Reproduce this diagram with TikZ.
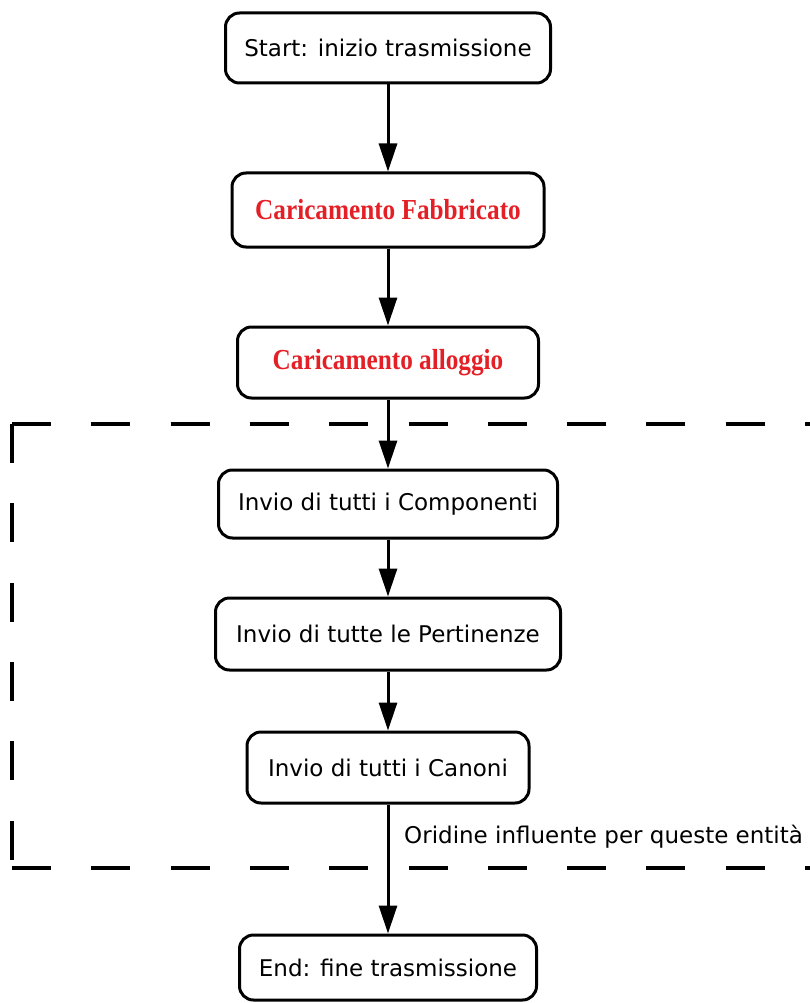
\documentclass[tikz,border=0pt]{standalone}
\usepackage{fontspec}
\setmainfont{DejaVu Sans}
\newfontfamily\redfont[FakeStretch=0.87]{Liberation Serif}
\usetikzlibrary{arrows.meta}
\definecolor{boxred}{RGB}{228,32,38}
\begin{document}
\begin{tikzpicture}[x=1pt,y=-1pt,
  box/.style={draw=black, line width=3pt, rounded corners=14pt, fill=white, inner sep=0pt, font=\fontsize{23}{27}\selectfont, align=center},
  redtext/.style={text=boxred, font=\redfont\bfseries\fontsize{29}{34}\selectfont},
  flow/.style={line width=3pt, -{Triangle[length=28pt,width=18pt]}},
  groupframe/.style={line width=3.3pt, dash pattern=on 39pt off 40.3pt},
  notetext/.style={font=\fontsize{23}{27}\selectfont, inner sep=0pt}]
\useasboundingbox (0,0) rectangle (810,1003);
% dashed group frame (right side lies beyond the picture)
\draw[groupframe] (12,424) -- (812,424);
\draw[groupframe] (12,424) -- (12,868);
\draw[groupframe] (12,868) -- (812,868);
% nodes
\node[box, minimum width=325pt, minimum height=70pt] (start) at (388,48) {Start: inizio trasmissione};
\node[box, redtext, minimum width=312pt, minimum height=74pt] (fabb) at (388,210) {Caricamento Fabbricato};
\node[box, redtext, minimum width=301pt, minimum height=71pt] (allog) at (388,362.5) {Caricamento alloggio};
\node[box, minimum width=339pt, minimum height=68pt] (comp) at (388,504) {Invio di tutti i Componenti};
\node[box, minimum width=345pt, minimum height=72pt] (pert) at (388,634) {Invio di tutte le Pertinenze};
\node[box, minimum width=282pt, minimum height=71pt] (canoni) at (388,767.5) {Invio di tutti i Canoni};
\node[box, minimum width=297pt, minimum height=65pt] (end) at (388,967.5) {End: fine trasmissione};
\node[notetext, anchor=west] (note) at (404,837) {Oridine influente per queste entità};
% connectors
\draw[flow] (start) -- (fabb);
\draw[flow] (fabb) -- (allog);
\draw[flow] (allog) -- (comp);
\draw[flow] (comp) -- (pert);
\draw[flow] (pert) -- (canoni);
\draw[flow] (canoni) -- (end);
\end{tikzpicture}
\end{document}
